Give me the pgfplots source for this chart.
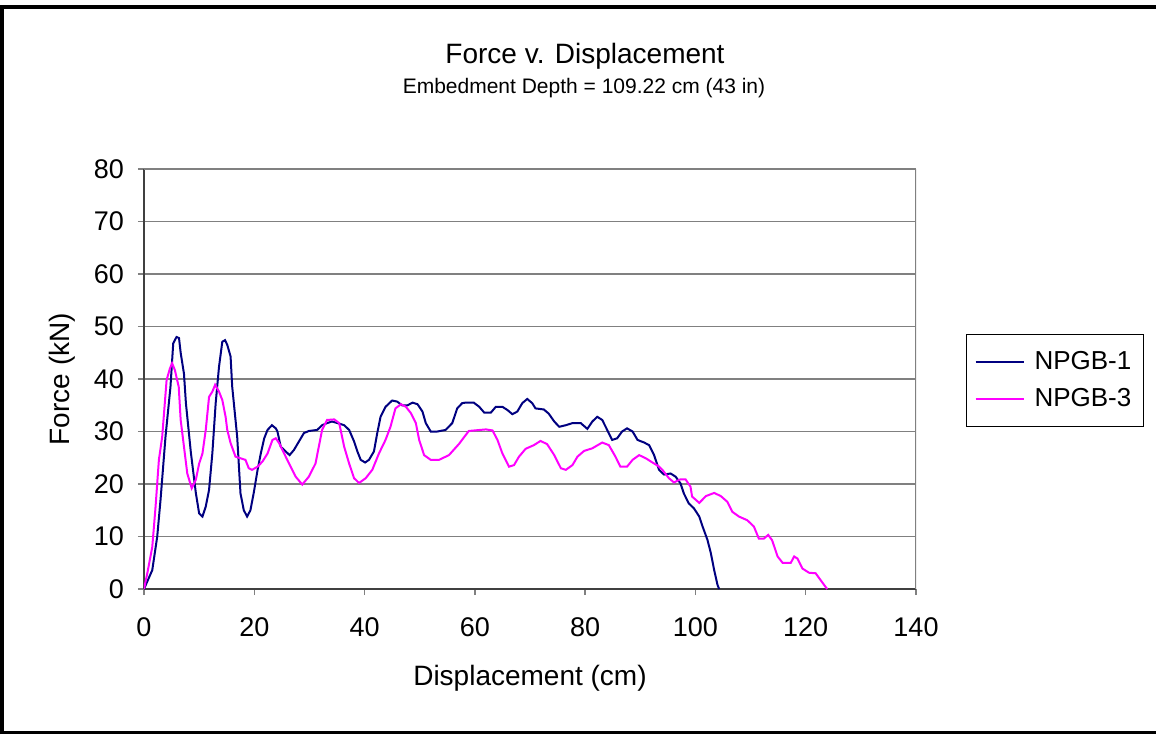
\documentclass[border=0pt]{standalone}
\usepackage{pgfplots}
\pgfplotsset{compat=1.18}
\usepackage{fontspec}
\setmainfont{Liberation Sans}
\definecolor{navyline}{HTML}{000080}
\definecolor{magline}{HTML}{FF00FF}
\definecolor{gridgray}{HTML}{808080}
\definecolor{axisdark}{HTML}{404040}
\begin{document}
\begin{tikzpicture}
\useasboundingbox (-72pt,-72.5pt) rectangle (506pt,294.5pt);
% outer frame
\draw[black,line width=2pt] (-71pt,-72.5pt) -- (-71pt,291pt);
\draw[black,line width=2pt] (-72pt,291pt) -- (506pt,291pt);
\draw[black,line width=1.5pt] (-72pt,-71.5pt) -- (506pt,-71.5pt);
% titles
\node[font=\fontsize{14}{16}\selectfont] at (220.5pt,266.5pt) {Force v. Displacement};
\node[font=\fontsize{10.5}{12}\selectfont] at (220pt,250.5pt) {Embedment Depth = 109.22 cm (43 in)};
\begin{axis}[
  at={(0pt,0pt)}, anchor=origin,
  scale only axis,
  width=386pt, height=210pt,
  xmin=0, xmax=140, ymin=0, ymax=80,
  xtick={0,20,...,140}, ytick={0,10,...,80},
  axis x line*=bottom, axis y line*=left,
  axis line style={axisdark, line width=0.75pt, -},
  tick align=outside,
  major tick length=3pt,
  tick style={gridgray, line width=0.75pt},
  ymajorgrids,
  grid style={gridgray, line width=0.6pt},
  /pgf/number format/assume math mode=true,
  ticklabel style={font=\fontsize{13.5}{16}\selectfont},
  yticklabel style={xshift=-3.5pt},
  xticklabel style={yshift=-8pt},
  every axis x label/.style={at={(axis description cs:0.5,-0.2119)}, anchor=center},
  every axis y label/.style={at={(axis description cs:-0.10622,0.5)}, rotate=90, anchor=center},
  label style={font=\fontsize{14}{16}\selectfont},
  xlabel={Displacement (cm)},
  ylabel={Force (kN)},
  legend style={at={(1.0648,0.607)}, anchor=north west, draw=black, line width=0.5pt,
    font=\fontsize{13}{15}\selectfont, inner xsep=4pt, inner ysep=6.5pt, row sep=4pt,
    nodes={inner sep=2pt},
    /tikz/every odd column/.append style={column sep=3pt}},
  legend cell align=left,
  legend image code/.code={\draw[#1, line width=1pt] (0pt,0pt) -- (24pt,0pt);},
]
\addplot[navyline, line width=1pt] coordinates {
(0,0) (1.5,3.6) (2.4,10) (3.0,17) (3.9,29) (4.8,38.5) (5.3,46.8) (5.9,48) (6.35,47.8) (6.65,45) (7.25,41) (7.6,35.4) (8.5,26) (9.4,18.3) (10,14.4) (10.6,13.8) (11.2,15.7) (11.8,18.9) (12.4,25.9) (13.0,35.4) (13.6,42.3) (14.2,47.1) (14.7,47.4) (15.1,46.5) (15.7,44.3) (16.0,38.5) (16.9,29) (17.5,18.2) (18.1,15) (18.7,13.8) (19.3,15) (19.9,18.3) (20.6,22.7) (21.2,25.9) (21.8,28.7) (22.4,30.3) (23.2,31.2) (23.9,30.6) (24.2,30) (24.8,27.1) (25.7,26.2) (26.4,25.5) (27.2,26.5) (28.1,28.1) (29.0,29.7) (29.9,30.1) (31.4,30.3) (32.3,31.2) (33.2,31.6) (34.1,31.9) (35.1,31.6) (36.3,31.2) (37.2,30.3) (38.1,28.1) (38.7,26.2) (39.3,24.6) (40.1,24.1) (40.8,24.6) (41.7,26.2) (42.3,29.7) (42.9,32.8) (43.8,34.7) (45.0,35.9) (45.9,35.7) (46.8,35) (47.8,35) (48.7,35.5) (49.6,35.2) (50.5,33.8) (51.1,31.6) (52.0,30) (53.2,30) (54.7,30.3) (55.9,31.6) (56.8,34.4) (57.7,35.4) (58.3,35.5) (59.8,35.5) (60.8,34.7) (61.7,33.6) (62.9,33.6) (63.8,34.7) (65.0,34.7) (65.9,34.1) (66.8,33.3) (67.7,33.8) (68.6,35.4) (69.5,36.2) (70.4,35.4) (71.0,34.4) (72.5,34.2) (73.4,33.4) (74.4,31.9) (75.3,30.9) (76.5,31.2) (77.7,31.6) (79.2,31.6) (80.4,30.5) (81.3,31.9) (82.2,32.8) (83.1,32.2) (84.0,30.3) (84.9,28.4) (85.8,28.7) (86.7,30) (87.6,30.6) (88.6,30) (89.5,28.4) (90.7,27.9) (91.6,27.4) (92.5,25.5) (93.4,22.7) (94.3,21.8) (95.5,22) (96.4,21.4) (97.3,20.1) (97.9,18.2) (98.8,16.3) (99.7,15.4) (100.7,13.8) (101.3,11.9) (102.2,9.3) (102.8,6.8) (103.4,3.6) (104.0,0.8) (104.3,0)
};
\addlegendentry{NPGB-1}
\addplot[magline, line width=1pt] coordinates {
(0,0) (0.6,3) (1.5,8) (2.1,15.7) (2.7,24.6) (3.3,29) (4.1,39.8) (4.7,42) (5.1,43) (5.6,41.7) (6.3,38.5) (6.65,32.2) (7.25,27.1) (7.85,22) (8.65,19.2) (9.4,20.8) (10.0,23.9) (10.6,25.8) (11.2,30.3) (11.8,36.6) (12.4,37.6) (12.9,38.9) (13.6,37.6) (14.2,36) (14.8,32.8) (15.1,30.3) (15.7,27.8) (16.6,25.2) (17.5,24.9) (18.4,24.6) (19.0,23) (19.6,22.7) (20.6,23.3) (21.5,24.3) (22.4,25.8) (23.3,28.4) (23.9,28.7) (24.5,27.8) (25.1,26.5) (26.3,23.9) (27.5,21.4) (28.7,19.9) (29.9,21.4) (31.1,23.9) (31.7,27.1) (32.3,30.3) (33.2,32.2) (34.5,32.3) (35.4,31.6) (36.3,27.1) (37.2,23.9) (38.1,21.1) (39.0,20.2) (40.2,21.1) (41.4,22.7) (42.6,25.8) (43.8,28.4) (44.7,30.9) (45.6,34.4) (46.6,35.2) (47.5,34.7) (48.4,33.5) (49.3,31.6) (49.9,28.4) (50.8,25.5) (52.0,24.6) (53.5,24.6) (55.3,25.5) (57.1,27.6) (58.9,30.1) (62.0,30.4) (63.2,30.2) (64.1,28.4) (65.0,25.8) (66.2,23.3) (67.1,23.6) (68.0,25.2) (69.2,26.7) (70.7,27.4) (71.9,28.2) (73.1,27.6) (74.4,25.5) (75.6,23) (76.5,22.7) (77.7,23.6) (78.6,25.2) (79.8,26.3) (81.3,26.8) (83.1,27.9) (84.3,27.4) (85.5,25.2) (86.4,23.3) (87.6,23.3) (88.6,24.6) (89.8,25.5) (91.0,24.9) (92.2,24.1) (93.3,23.4) (94.0,22.7) (95.2,21.1) (96.1,20.3) (97.3,20.9) (98.2,20.9) (99.1,19.5) (99.4,17.6) (100.7,16.4) (101.9,17.7) (103.4,18.3) (104.6,17.7) (105.8,16.6) (106.7,14.7) (107.9,13.8) (109.4,13.1) (110.6,11.9) (111.5,9.6) (112.4,9.6) (113.2,10.3) (113.9,9.3) (114.9,6.2) (115.8,5) (117.3,5) (117.9,6.2) (118.5,5.8) (119.4,3.9) (120.6,3.1) (121.8,3) (122.7,1.7) (123.6,0.4) (123.9,0)
};
\addlegendentry{NPGB-3}
\draw[gridgray, line width=1pt] (rel axis cs:0,1) -- (rel axis cs:1,1) -- (rel axis cs:1,0);
\end{axis}
\end{tikzpicture}
\end{document}
